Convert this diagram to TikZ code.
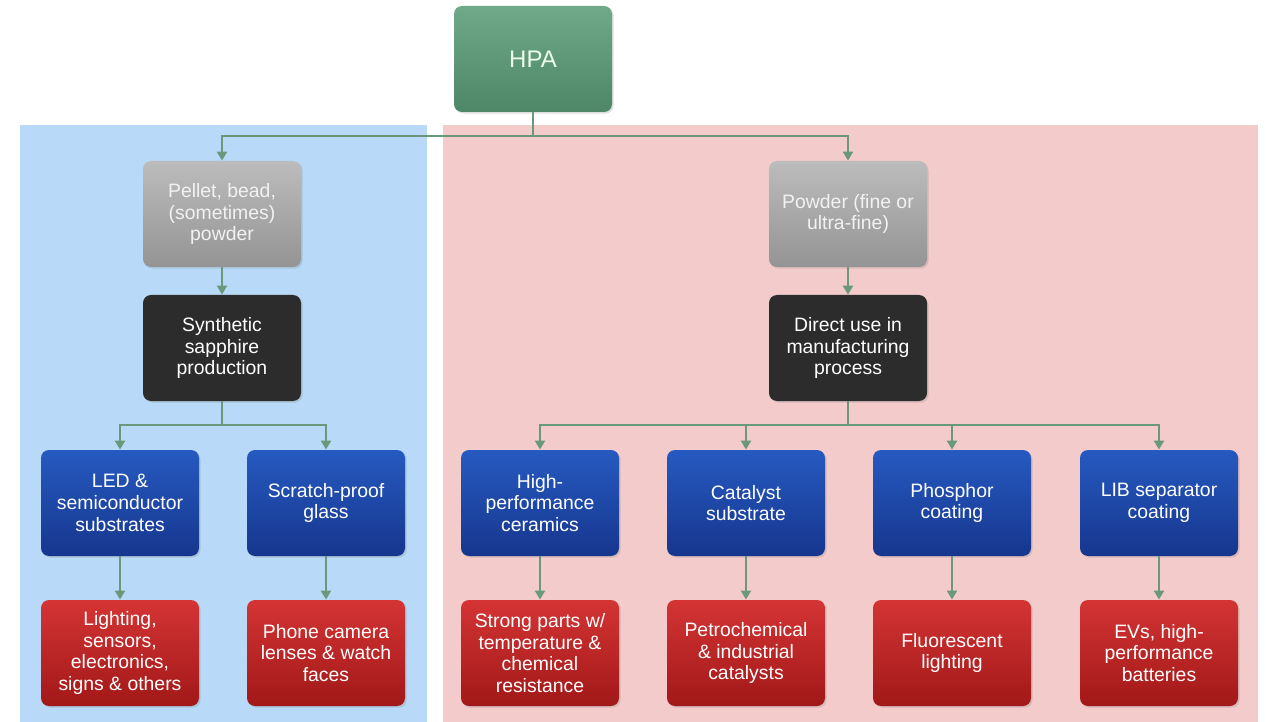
\documentclass[tikz,border=0pt]{standalone}
\usepackage{fontspec}
\setmainfont{Liberation Sans}
\usetikzlibrary{arrows.meta,shadows}
\definecolor{panelblue}{RGB}{184,218,248}
\definecolor{panelpink}{RGB}{243,203,203}
\definecolor{hpatop}{RGB}{112,168,138}
\definecolor{hpabot}{RGB}{78,135,104}
\definecolor{formtop}{RGB}{188,188,188}
\definecolor{formbot}{RGB}{148,148,148}
\definecolor{procblack}{RGB}{44,44,44}
\definecolor{usetop}{RGB}{38,90,192}
\definecolor{usebot}{RGB}{22,54,142}
\definecolor{apptop}{RGB}{212,52,52}
\definecolor{appbot}{RGB}{162,24,24}
\definecolor{linkgreen}{RGB}{106,152,122}
\tikzstyle{box}=[rectangle,rounded corners=4pt,minimum width=79pt,minimum height=53pt,inner sep=2pt,align=center,text=white,font=\fontsize{9.7}{10.9}\selectfont,drop shadow={opacity=0.25,shadow xshift=0.8pt,shadow yshift=-0.8pt}]
\tikzstyle{hpabox}=[box,top color=hpatop,bottom color=hpabot,text=green!8,font=\fontsize{12}{14}\selectfont]
\tikzstyle{formbox}=[box,top color=formtop,bottom color=formbot,text=white!95!black]
\tikzstyle{procbox}=[box,fill=procblack]
\tikzstyle{usebox}=[box,top color=usetop,bottom color=usebot]
\tikzstyle{appbox}=[box,top color=apptop,bottom color=appbot]
\tikzstyle{edge}=[draw,line width=1pt,linkgreen,-{Triangle[width=5pt,length=4.5pt]}]

\begin{document}
\begin{tikzpicture}[x=0.5pt,y=-0.5pt]
    \useasboundingbox (0,0) rectangle (1266,722);
    % panneaux
    \fill[panelblue] (20,125) rectangle (427,722);
    \fill[panelpink] (443,125) rectangle (1258,722);
    % boites
    \foreach \pos/\name/\kind/\txt in {{(533,59)/hpa/hpabox/HPA},
        {(222,214)/pellet/formbox/{Pellet, bead,\\(sometimes)\\powder}},
        {(848,214)/powder/formbox/{Powder (fine or\\ultra-fine)}},
        {(222,348)/synth/procbox/{Synthetic\\sapphire\\production}},
        {(848,348)/direct/procbox/{Direct use in\\manufacturing\\process}},
        {(120,503)/led/usebox/{LED \&\\semiconductor\\substrates}},
        {(326,503)/glass/usebox/{Scratch-proof\\glass}},
        {(540,503)/ceram/usebox/{High-\\performance\\ceramics}},
        {(746,503)/catal/usebox/{Catalyst\\substrate}},
        {(952,503)/phos/usebox/{Phosphor\\coating}},
        {(1159,503)/lib/usebox/{LIB separator\\coating}},
        {(120,653)/lights/appbox/{Lighting,\\sensors,\\electronics,\\signs \& others}},
        {(326,653)/phone/appbox/{Phone camera\\lenses \& watch\\faces}},
        {(540,653)/strong/appbox/{Strong parts w/\\temperature \&\\chemical\\resistance}},
        {(746,653)/petro/appbox/{Petrochemical\\\& industrial\\catalysts}},
        {(952,653)/fluor/appbox/{Fluorescent\\lighting}},
        {(1159,653)/evs/appbox/{EVs, high-\\performance\\batteries}}}
        \node[\kind] (\name) at \pos {\txt};
    % liens
    \foreach \source/\dest in {hpa/pellet, hpa/powder, pellet/synth, powder/direct, synth/led, synth/glass, direct/ceram, direct/catal, direct/phos, direct/lib, led/lights, glass/phone, ceram/strong, catal/petro, phos/fluor, lib/evs}
        \path[edge] (\source.south) -- ++(0,24) -| (\dest.north);
\end{tikzpicture}
\end{document}
